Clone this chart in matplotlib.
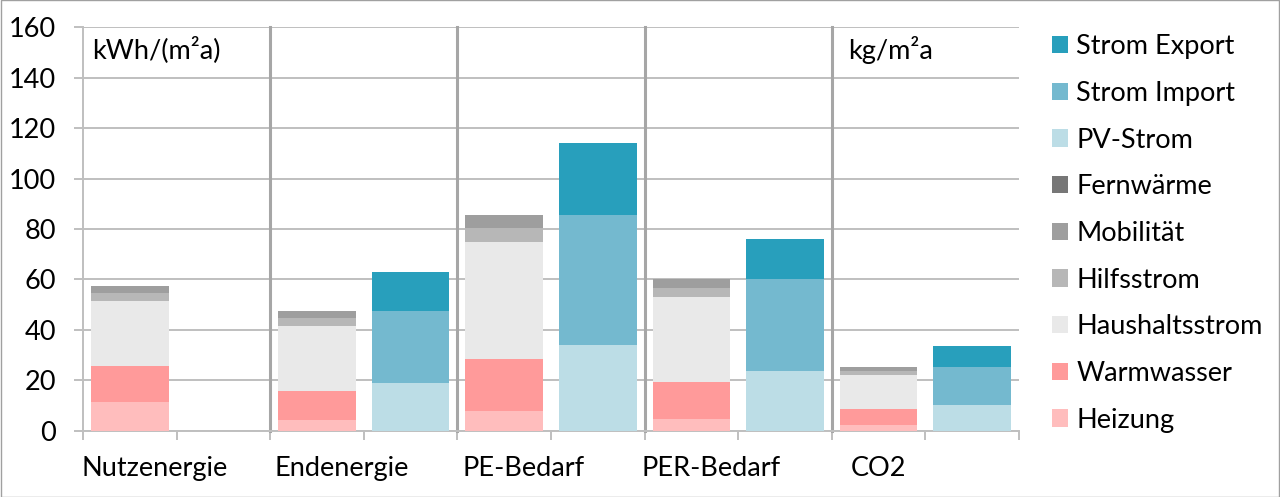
import matplotlib
matplotlib.use('Agg')
import matplotlib.pyplot as plt
from matplotlib.patches import Rectangle
import numpy as np

plt.rcParams['font.family'] = ['Lato', 'DejaVu Sans']

# values
groups = ['Nutzenergie', 'Endenergie', 'PE-Bedarf', 'PER-Bedarf', 'CO2']
heizung = [11.5, 4.2, 7.8, 4.6, 2.3]
warmwasser = [14.3, 11.5, 20.6, 14.7, 6.2]
haushaltsstrom = [25.8, 25.8, 46.6, 33.9, 13.5]
hilfsstrom = [3.1, 3.2, 5.5, 3.4, 1.8]
mobilitaet = [2.8, 2.7, 5.2, 3.7, 1.3]
fernwaerme = [0, 0, 0, 0, 0]
pv_strom = [0, 18.9, 33.9, 23.8, 10.2]
strom_import = [0, 28.5, 51.8, 36.5, 14.9]
strom_export = [0, 15.7, 28.3, 15.7, 8.5]

demand = [('Heizung', heizung, '#FFBDBD'),
          ('Warmwasser', warmwasser, '#FF9A9A'),
          ('Haushaltsstrom', haushaltsstrom, '#E9E9E9'),
          ('Hilfsstrom', hilfsstrom, '#B7B7B7'),
          ('Mobilität', mobilitaet, '#9E9E9E'),
          ('Fernwärme', fernwaerme, '#777777')]
supply = [('PV-Strom', pv_strom, '#BCDDE6'),
          ('Strom Import', strom_import, '#74B9CF'),
          ('Strom Export', strom_export, '#289FBC')]

label_shift = [0.26, 0.26, 0.21, 0.21, 0.0]
fs = 19.5

fig = plt.figure(figsize=(12.8, 4.97), dpi=100)
ax = fig.add_axes([83/1280, 1-430.7/497, 936/1280, 403.4/497])

n = len(groups)
x_dem = np.arange(n) * 2
x_sup = x_dem + 1
w = 0.83

handles = []
bottom = np.zeros(n)
for name, vals, col in demand:
    b = ax.bar(x_dem, vals, w, bottom=bottom, color=col, label=name, zorder=3)
    bottom += np.array(vals)
    handles.append(b)
bottom = np.zeros(n)
for name, vals, col in supply:
    b = ax.bar(x_sup, vals, w, bottom=bottom, color=col, label=name, zorder=3)
    bottom += np.array(vals)
    handles.append(b)

ax.set_xlim(-0.5, 2*n - 0.5)
ax.set_ylim(0, 160)
ax.set_yticks(np.arange(0, 161, 20))
ax.yaxis.grid(True, color='#BFBFBF', lw=1.4)
ax.set_axisbelow(True)

ax.set_xticks(np.arange(-0.5, 2*n, 1))
ax.set_xticklabels([])
ax.tick_params(axis='both', direction='out', length=6.5, width=1.4, color='#BFBFBF')
ax.tick_params(axis='y', labelsize=fs, pad=13)
for s in ['top', 'right']:
    ax.spines[s].set_visible(False)
for s in ['left', 'bottom']:
    ax.spines[s].set_color('#BFBFBF')
    ax.spines[s].set_linewidth(1.4)

# separators between groups
for i in range(1, n):
    ax.plot([2*i - 0.5, 2*i - 0.5], [0, 160], color='#A6A6A6', lw=2.2, zorder=2,
            clip_on=False)

for i, g in enumerate(groups):
    ax.text(x_dem[i] + label_shift[i], -0.0925, g, transform=ax.get_xaxis_transform(),
            ha='center', va='center', fontsize=fs)

ax.text(-0.404, 151, 'kWh/(m²a)', ha='left', va='center', fontsize=fs)
ax.text(7.67, 151, 'kg/m²a', ha='left', va='center', fontsize=fs)

leg = fig.legend(handles[::-1], [h.get_label() for h in handles[::-1]],
                 loc='upper left', bbox_to_anchor=(1052/1280, 0.931),
                 frameon=False, fontsize=fs, borderpad=0, borderaxespad=0,
                 handlelength=0.6, handleheight=0.6, handletextpad=0.3,
                 labelspacing=0.8)

fig.patches.append(Rectangle((0.0005, 0.001), 0.999, 0.998, transform=fig.transFigure,
                             fill=False, edgecolor='#A0A0A0', lw=1))

fig.savefig('out.png', dpi=100)
